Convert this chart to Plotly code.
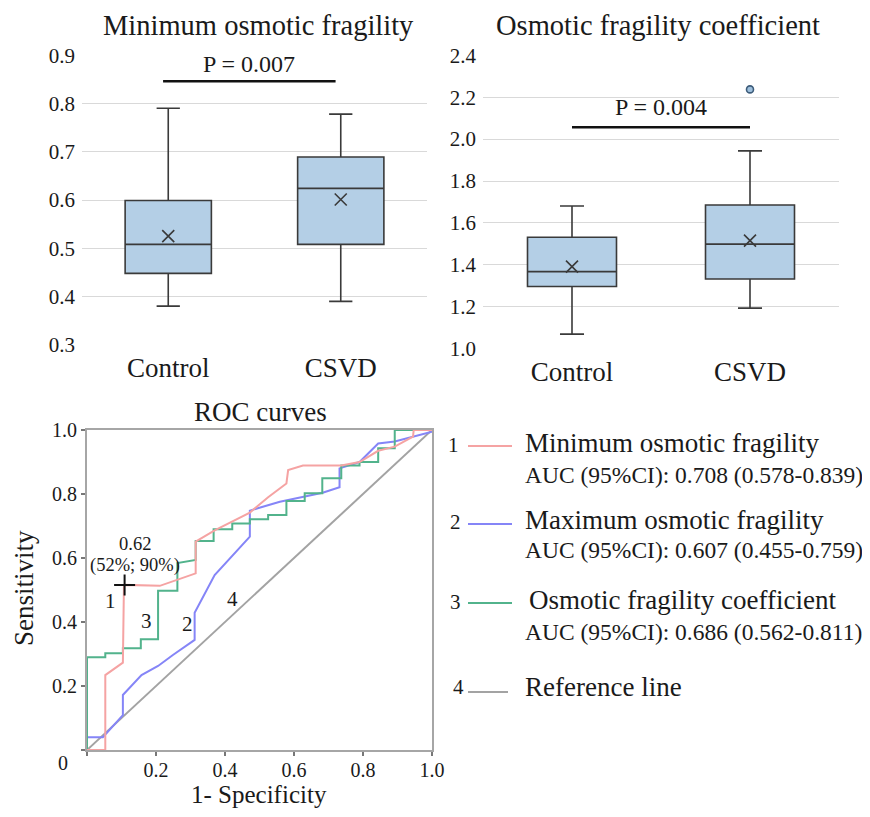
import plotly.graph_objects as go

# ---------------- data ----------------
categories = ["Control", "CSVD"]

# Minimum osmotic fragility (box stats)
mof_lower = [0.38, 0.39]
mof_q1 = [0.448, 0.508]
mof_median = [0.508, 0.624]
mof_q3 = [0.599, 0.689]
mof_upper = [0.79, 0.778]
mof_mean = [0.525, 0.601]

# Osmotic fragility coefficient (box stats)
ofc_lower = [1.07, 1.194]
ofc_q1 = [1.297, 1.333]
ofc_median = [1.368, 1.499]
ofc_q3 = [1.532, 1.686]
ofc_upper = [1.681, 1.944]
ofc_mean = [1.392, 1.516]
ofc_outlier_cat = ["CSVD"]
ofc_outlier_val = [2.237]

p_texts = ["P = 0.007", "P = 0.004"]
p_bar_y = [0.846, 2.056]
p_text_y = [0.881, 2.154]

# ROC curves (1-specificity, sensitivity)
roc_min_x = [0.0, 0.053, 0.053, 0.104, 0.107, 0.109, 0.211, 0.315, 0.315, 0.37, 0.472, 0.525,
             0.578, 0.583, 0.626, 0.737, 0.79, 0.844, 0.892, 0.945, 0.947, 1.0]
roc_min_y = [0.0, 0.0, 0.234, 0.273, 0.51, 0.516, 0.513, 0.552, 0.651, 0.686, 0.742, 0.79,
             0.833, 0.875, 0.889, 0.889, 0.90, 0.935, 0.948, 0.979, 1.0, 1.0]

roc_max_x = [0.0, 0.046, 0.104, 0.104, 0.158, 0.206, 0.249, 0.312, 0.312, 0.37, 0.472, 0.472,
             0.559, 0.683, 0.732, 0.732, 0.79, 0.844, 0.892, 1.0]
roc_max_y = [0.04, 0.04, 0.109, 0.172, 0.234, 0.2625, 0.297, 0.344, 0.429, 0.547, 0.667, 0.748,
             0.776, 0.804, 0.821, 0.88, 0.90, 0.958, 0.964, 0.995]

roc_ofc_x = [0.0, 0.0, 0.053, 0.053, 0.104, 0.104, 0.156, 0.156, 0.206, 0.206, 0.262, 0.262,
             0.315, 0.315, 0.367, 0.367, 0.421, 0.421, 0.472, 0.472, 0.525, 0.525, 0.578, 0.578,
             0.631, 0.631, 0.682, 0.682, 0.737, 0.737, 0.79, 0.79, 0.844, 0.844, 0.892, 0.892, 1.0]
roc_ofc_y = [0.0, 0.29, 0.29, 0.302, 0.302, 0.318, 0.318, 0.346, 0.346, 0.498, 0.498, 0.584,
             0.594, 0.653, 0.653, 0.69, 0.69, 0.708, 0.708, 0.721, 0.721, 0.734, 0.734, 0.778,
             0.778, 0.802, 0.802, 0.849, 0.849, 0.889, 0.889, 0.90, 0.90, 0.943, 0.943, 1.0, 1.0]

ref_x = [0.0, 1.0]
ref_y = [0.0, 1.0]

cutoff_x = [0.109]
cutoff_y = [0.516]
cutoff_label = ["0.62", "(52%; 90%)"]

curve_names = ["Minimum osmotic fragility", "Maximum osmotic fragility",
               "Osmotic fragility coefficient", "Reference line"]
auc_texts = ["AUC (95%CI): 0.708 (0.578-0.839)", "AUC (95%CI): 0.607 (0.455-0.759)",
             "AUC (95%CI): 0.686 (0.562-0.811)"]
curve_colors = ["#f5a3a3", "#8585f7", "#52b38c", "#a3a3a3"]

# ---------------- styling ----------------
OX, OY = 8, 8          # page body margin
FW, FH = 854, 801      # figure size
FONT = "Liberation Serif, Times New Roman, serif"
TXT = "#1a1a1a"
BOX_FILL = "#b4cfe6"
BOX_LINE = "#3a3a3a"


def px_x(p):
    return (p - OX) / FW


def px_y(p):
    return 1 - (p - OY) / FH


fig = go.Figure()

# Box plot 1
fig.add_trace(go.Box(
    x=categories, q1=mof_q1, median=mof_median, q3=mof_q3,
    lowerfence=mof_lower, upperfence=mof_upper,
    fillcolor=BOX_FILL, line=dict(color=BOX_LINE, width=1.6),
    width=0.5, whiskerwidth=0.27, boxpoints=False,
    xaxis="x", yaxis="y", showlegend=False, hoverinfo="skip"))
fig.add_trace(go.Scatter(
    x=categories, y=mof_mean, mode="markers",
    marker=dict(symbol="x-thin", size=12, line=dict(color=BOX_LINE, width=1.6)),
    xaxis="x", yaxis="y", showlegend=False, hoverinfo="skip"))

# Box plot 2
fig.add_trace(go.Box(
    x=categories, q1=ofc_q1, median=ofc_median, q3=ofc_q3,
    lowerfence=ofc_lower, upperfence=ofc_upper,
    fillcolor=BOX_FILL, line=dict(color=BOX_LINE, width=1.6),
    width=0.5, whiskerwidth=0.27, boxpoints=False,
    xaxis="x2", yaxis="y2", showlegend=False, hoverinfo="skip"))
fig.add_trace(go.Scatter(
    x=categories, y=ofc_mean, mode="markers",
    marker=dict(symbol="x-thin", size=12, line=dict(color=BOX_LINE, width=1.6)),
    xaxis="x2", yaxis="y2", showlegend=False, hoverinfo="skip"))
fig.add_trace(go.Scatter(
    x=ofc_outlier_cat, y=ofc_outlier_val, mode="markers",
    marker=dict(symbol="circle", size=7, color="#9dbfdc", line=dict(color="#3d5c7a", width=1.6)),
    xaxis="x2", yaxis="y2", showlegend=False, hoverinfo="skip"))

# ROC curves
fig.add_trace(go.Scatter(x=ref_x, y=ref_y, mode="lines", line=dict(color=curve_colors[3], width=2),
                         xaxis="x3", yaxis="y3", showlegend=False, hoverinfo="skip"))
fig.add_trace(go.Scatter(x=roc_max_x, y=roc_max_y, mode="lines", line=dict(color=curve_colors[1], width=2),
                         xaxis="x3", yaxis="y3", showlegend=False, hoverinfo="skip"))
fig.add_trace(go.Scatter(x=roc_ofc_x, y=roc_ofc_y, mode="lines", line=dict(color=curve_colors[2], width=2),
                         xaxis="x3", yaxis="y3", showlegend=False, hoverinfo="skip"))
fig.add_trace(go.Scatter(x=roc_min_x, y=roc_min_y, mode="lines", line=dict(color=curve_colors[0], width=2),
                         xaxis="x3", yaxis="y3", showlegend=False, hoverinfo="skip"))
fig.add_trace(go.Scatter(x=cutoff_x, y=cutoff_y, mode="markers",
                         marker=dict(symbol="cross-thin", size=15, line=dict(color="#111", width=2)),
                         xaxis="x3", yaxis="y3", showlegend=False, hoverinfo="skip"))

# ---------------- axes ----------------
box_y_common = dict(showgrid=True, gridcolor="#d9d9d9", gridwidth=1, zeroline=False, showline=False,
                    ticks="", tickfont=dict(family=FONT, size=21, color=TXT), automargin=False,
                    ticklabelstandoff=6)
box_x_common = dict(type="category", showgrid=False, zeroline=False, showline=False, ticks="",
                    tickfont=dict(family=FONT, size=27, color=TXT), automargin=False,
                    range=[-0.5, 1.5], ticklabelstandoff=4)
roc_common = dict(range=[0, 1], showgrid=False, zeroline=False,
                  showline=True, mirror=True, linecolor="#a6a6a6", linewidth=2,
                  ticks="outside", ticklen=4, tickcolor="#777", tickwidth=1.5,
                  tickvals=[0, 0.2, 0.4, 0.6, 0.8, 1.0], ticktext=["", "0.2", "0.4", "0.6", "0.8", "1.0"],
                  tickfont=dict(family=FONT, size=20, color=TXT), automargin=False)

fig.update_layout(
    xaxis=dict(domain=[px_x(82), px_x(427)], anchor="y", **box_x_common),
    yaxis=dict(domain=[px_y(345), px_y(55)], anchor="x", range=[0.2995, 0.9005],
               tickvals=[0.3, 0.4, 0.5, 0.6, 0.7, 0.8, 0.9], tickformat=".1f", **box_y_common),
    xaxis2=dict(domain=[px_x(483), px_x(839)], anchor="y2", **box_x_common),
    yaxis2=dict(domain=[px_y(349), px_y(55)], anchor="x2", range=[0.999, 2.401],
                tickvals=[1.0, 1.2, 1.4, 1.6, 1.8, 2.0, 2.2, 2.4], tickformat=".1f", **box_y_common),
    xaxis3=dict(domain=[px_x(87), px_x(432)], anchor="y3", ticklabelstandoff=-3, **roc_common),
    yaxis3=dict(domain=[px_y(750), px_y(430)], anchor="x3", **roc_common),
    width=FW, height=FH, margin=dict(l=0, r=0, t=0, b=0),
    paper_bgcolor="white", plot_bgcolor="white", showlegend=False,
    font=dict(family=FONT, color=TXT),
)

shapes = []
annotations = []

# Titles
annotations.append(dict(text="Minimum osmotic fragility", x=px_x(258), y=px_y(25), xref="paper", yref="paper",
                        showarrow=False, font=dict(family=FONT, size=28.5, color=TXT), xanchor="center", yanchor="middle"))
annotations.append(dict(text="Osmotic fragility coefficient", x=px_x(658), y=px_y(25), xref="paper", yref="paper",
                        showarrow=False, font=dict(family=FONT, size=28.5, color=TXT), xanchor="center", yanchor="middle"))
annotations.append(dict(text="ROC curves", x=px_x(260), y=px_y(412), xref="paper", yref="paper",
                        showarrow=False, font=dict(family=FONT, size=27, color=TXT), xanchor="center", yanchor="middle"))

# P-value bars
for i, (xa, ya) in enumerate([("x", "y"), ("x2", "y2")]):
    x0 = -0.03 if i == 0 else 0.0
    x1 = 0.97 if i == 0 else 1.0
    shapes.append(dict(type="line", xref=xa, yref=ya, x0=x0, x1=x1, y0=p_bar_y[i], y1=p_bar_y[i],
                       line=dict(color="#111", width=2.5)))
    annotations.append(dict(text=p_texts[i], xref=xa, yref=ya, x=(x0 + x1) / 2, y=p_text_y[i],
                            showarrow=False, font=dict(family=FONT, size=24, color=TXT),
                            xanchor="center", yanchor="middle"))

# ROC axis titles and labels
annotations.append(dict(text="Sensitivity", x=px_x(24), y=px_y(588), xref="paper", yref="paper", textangle=-90,
                        showarrow=False, font=dict(family=FONT, size=27, color=TXT), xanchor="center", yanchor="middle"))
annotations.append(dict(text="1- Specificity", x=px_x(259), y=px_y(809), xref="paper", yref="paper",
                        showarrow=False, font=dict(family=FONT, size=25, color=TXT), xanchor="center",
                        yanchor="bottom", borderpad=0))
annotations.append(dict(text="0", x=px_x(63), y=px_y(763), xref="paper", yref="paper",
                        showarrow=False, font=dict(family=FONT, size=20, color=TXT), xanchor="center", yanchor="middle"))

# In-plot labels
annotations.append(dict(text=cutoff_label[0], xref="x3", yref="y3", x=0.138, y=0.644, showarrow=False,
                        font=dict(family=FONT, size=18.5, color=TXT)))
annotations.append(dict(text=cutoff_label[1], xref="x3", yref="y3", x=0.138, y=0.576, showarrow=False,
                        font=dict(family=FONT, size=18.5, color=TXT)))
for lab, lx, ly in [("1", 0.068, 0.467), ("3", 0.172, 0.404), ("2", 0.29, 0.394), ("4", 0.421, 0.471)]:
    annotations.append(dict(text=lab, xref="x3", yref="y3", x=lx, y=ly, showarrow=False,
                            font=dict(family=FONT, size=21, color=TXT)))

# Custom legend
legend_rows = [
    (453, 445, 468, 512, 446, 523, 443, 475),
    (455, 522, 468, 512, 524, 523, 520, 550),
    (455, 602, 468, 512, 603, 527, 600, 632),
    (458, 687, 468, 508, 692, 523, 687, None),
]
for i, (nx, ny, lx0, lx1, ly, tx, ty, ay) in enumerate(legend_rows):
    annotations.append(dict(text=str(i + 1), x=px_x(nx), y=px_y(ny), xref="paper", yref="paper",
                            showarrow=False, font=dict(family=FONT, size=21, color=TXT),
                            xanchor="center", yanchor="middle"))
    shapes.append(dict(type="line", xref="paper", yref="paper", x0=px_x(lx0), x1=px_x(lx1),
                       y0=px_y(ly), y1=px_y(ly), line=dict(color=curve_colors[i], width=2)))
    annotations.append(dict(text=curve_names[i], x=px_x(tx), y=px_y(ty), xref="paper", yref="paper",
                            showarrow=False, font=dict(family=FONT, size=27, color=TXT),
                            xanchor="left", yanchor="middle"))
    if ay is not None:
        annotations.append(dict(text=auc_texts[i], x=px_x(523), y=px_y(ay), xref="paper", yref="paper",
                                showarrow=False, font=dict(family=FONT, size=23.5, color=TXT),
                                xanchor="left", yanchor="middle"))

fig.update_layout(shapes=shapes, annotations=annotations)

fig.write_html("out.html")
